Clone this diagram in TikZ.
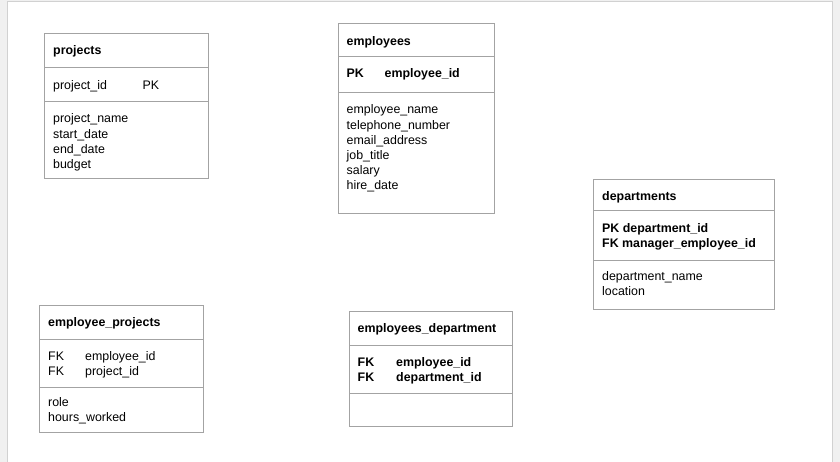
\documentclass[tikz,border=0pt]{standalone}
\usepackage{fontspec}
\setmainfont{Liberation Sans}
\usetikzlibrary{calc}
\pgfkeys{
  /ertable/.cd,
  name/.initial=t,
  position/.initial={0,0},
  width/.initial=100,
  height/.initial=100,
  first rule/.initial=30,
  second rule/.initial=60
}
\newcommand{\ertable}[1][]{
    {
        \pgfkeys{/ertable/.cd,#1}
        \pgfkeys{/ertable/name/.get=\ertablename}
        \pgfkeys{/ertable/position/.get=\ertableposition}
        \pgfkeys{/ertable/width/.get=\ertablewidth}
        \pgfkeys{/ertable/height/.get=\ertableheight}
        \pgfkeys{/ertable/first rule/.get=\ertablefirst}
        \pgfkeys{/ertable/second rule/.get=\ertablesecond}
        \node[frame,minimum width=\ertablewidth pt,minimum height=\ertableheight pt] (\ertablename) at (\ertableposition) {};
        \draw[rule] ($ (\ertablename.north west) + (0,\ertablefirst) $) -- ($ (\ertablename.north east) + (0,\ertablefirst) $);
        \draw[rule] ($ (\ertablename.north west) + (0,\ertablesecond) $) -- ($ (\ertablename.north east) + (0,\ertablesecond) $);
    }
}

\begin{document}
\begin{tikzpicture}[x=1pt,y=-1pt,
    frame/.style={draw=black!36,line width=0.8pt,anchor=north west,inner sep=0pt,outer sep=0pt},
    rule/.style={draw=black!36,line width=0.8pt},
    field/.style={anchor=base west,inner sep=0pt,yshift=-1.5pt,font=\fontsize{12.4}{15.2}\selectfont},
    title/.style={field,font=\fontsize{12.4}{15.2}\selectfont\bfseries}]
    \path[use as bounding box] (0,0) rectangle (840,462);

    % page
    \fill[black!6] (0,0) rectangle (840,462);
    \fill[white] (7.3,1.7) rectangle (832.3,462);
    \draw[black!18,line width=0.8pt] (7.3,462) -- (7.3,1.7) -- (832.3,1.7) -- (832.3,462);

    % projects
    \ertable[name=proj,position={44.5,33.5},width=163.5,height=145,first rule=34.2,second rule=68]
    \node[title] (proj-title) at (53,53) {projects};
    \node[field] (proj-key) at (53,88) {project\_id};
    \node[field] (proj-pk) at (142.5,88) {PK};
    \foreach[count=\i] \t in {project\_name,start\_date,end\_date,budget} {
        \node[field] (proj-a\i) at (53,121.5+15.2*\i-15.2) {\t};
    }

    % employees
    \ertable[name=emp,position={338,23.5},width=156.5,height=189.5,first rule=32.5,second rule=68.5]
    \node[title] (emp-title) at (346.5,44) {employees};
    \node[title] (emp-pk) at (346.5,76) {PK};
    \node[title] (emp-key) at (384.5,76) {employee\_id};
    \foreach[count=\i] \t in {employee\_name,telephone\_number,email\_address,job\_title,salary,hire\_date} {
        \node[field] (emp-a\i) at (346.5,112.5+15.2*\i-15.2) {\t};
    }

    % departments
    \ertable[name=dep,position={593.5,179},width=180.5,height=130.5,first rule=31,second rule=81]
    \node[title] (dep-title) at (602,199) {departments};
    \node[title] (dep-pk) at (602,231) {PK department\_id};
    \node[title] (dep-fk) at (602,246.2) {FK manager\_employee\_id};
    \node[field] (dep-a1) at (602,279) {department\_name};
    \node[field] (dep-a2) at (602,294.2) {location};

    % employee_projects
    \ertable[name=ep,position={39.5,305.5},width=163.5,height=127,first rule=33.5,second rule=81.5]
    \node[title] (ep-title) at (48,325) {employee\_projects};
    \node[field] (ep-fk1) at (48,359) {FK};
    \node[field] (ep-key1) at (85,359) {employee\_id};
    \node[field] (ep-fk2) at (48,374.2) {FK};
    \node[field] (ep-key2) at (85,374.2) {project\_id};
    \node[field] (ep-a1) at (48,405) {role};
    \node[field] (ep-a2) at (48,420.2) {hours\_worked};

    % employees_department
    \ertable[name=ed,position={349,311},width=163.5,height=115,first rule=34,second rule=82]
    \node[title] (ed-title) at (357.5,331) {employees\_department};
    \node[title] (ed-fk1) at (357.5,365) {FK};
    \node[title] (ed-key1) at (396,365) {employee\_id};
    \node[title] (ed-fk2) at (357.5,380.2) {FK};
    \node[title] (ed-key2) at (396,380.2) {department\_id};
\end{tikzpicture}
\end{document}
